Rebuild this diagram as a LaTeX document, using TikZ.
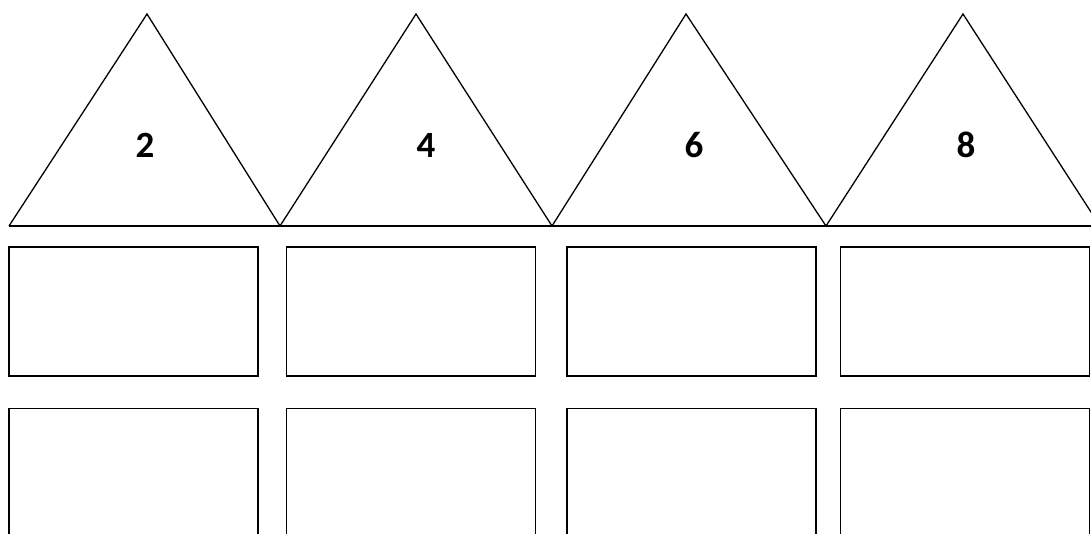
\documentclass[tikz,border=0pt]{standalone}
\usepackage{fontspec}
\setmainfont{Carlito}
\usetikzlibrary{positioning}

\begin{document}
\begin{tikzpicture}[
  x=1pt, y=-1pt,
  every node/.style={font=\fontsize{37}{40}\selectfont\bfseries},
  roof/.style={draw=black, line width=1.3pt, line join=miter},
  base/.style={draw=black, line width=2pt},
  box/.style={draw=black, line width=1.6pt, minimum width=249pt, minimum height=129pt, inner sep=0pt}
]
\clip (0,0) rectangle (1091,534);

% triangles on one base line
\foreach \l/\t/\r in {9/147/280, 280/416/552, 552/686/826, 826/963/1100}
  \draw[roof] (\l,226) -- (\t,14) -- (\r,226);
\draw[base] (9,226) -- (1091,226);

\node (n2) at (145,145) {2};
\node (n4) at (426,145) {4};
\node (n6) at (694,145) {6};
\node (n8) at (966,145) {8};

% first row
\node[box] (a1) at (133.5,311.5) {};
\node[box] (a2) at (411,311.5) {};
\node[box] (a3) at (691.5,311.5) {};
\node[box] (a4) at (965,311.5) {};

% second row, cut at the bottom
\node[box, below=31pt of a1] (b1) {};
\node[box, below=31pt of a2] (b2) {};
\node[box, below=31pt of a3] (b3) {};
\node[box, below=31pt of a4] (b4) {};
\end{tikzpicture}
\end{document}
